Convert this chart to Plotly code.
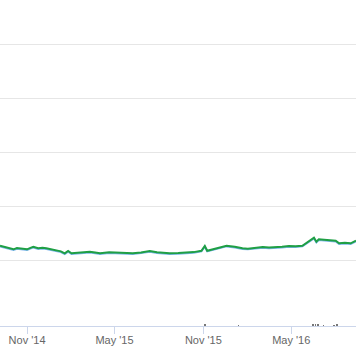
import plotly.graph_objects as go

# ---- data ----
dates = [
    "2014-09-06", "2014-09-13", "2014-09-20", "2014-09-27", "2014-10-04",
    "2014-10-11", "2014-10-18", "2014-10-25", "2014-11-01", "2014-11-08",
    "2014-11-14", "2014-11-24", "2014-12-03", "2014-12-11", "2014-12-21",
    "2015-01-01", "2015-01-10", "2015-01-18", "2015-01-25", "2015-02-01",
    "2015-02-15", "2015-03-11", "2015-03-22", "2015-04-01", "2015-04-20",
    "2015-05-12", "2015-05-25", "2015-06-08", "2015-06-25", "2015-07-13",
    "2015-07-28", "2015-08-10", "2015-08-23", "2015-09-10", "2015-09-27",
    "2015-10-12", "2015-10-28", "2015-11-04", "2015-11-09", "2015-11-18",
    "2015-11-28", "2015-12-08", "2015-12-19", "2016-01-05", "2016-01-12",
    "2016-01-21", "2016-02-01", "2016-02-11", "2016-03-03", "2016-03-16",
    "2016-03-30", "2016-04-12", "2016-04-26", "2016-05-10", "2016-05-24",
    "2016-06-03", "2016-06-17", "2016-06-22", "2016-06-27", "2016-07-08",
    "2016-07-18", "2016-08-01", "2016-08-08", "2016-08-20", "2016-09-01",
    "2016-09-12",
]
green_values = [
    26.5, 25.0, 23.5, 21.2, 19.8,
    22.0, 21.7, 20.5, 19.8, 22.5,
    24.6, 21.7, 22.6, 21.7, 20.2,
    18.5, 16.0, 12.4, 16.7, 12.4,
    14.0, 15.4, 13.8, 12.4, 14.2,
    13.5, 12.9, 12.4, 14.1, 16.7,
    14.3, 13.0, 12.4, 12.9, 13.5,
    14.6, 17.2, 25.9, 17.2, 19.5,
    21.7, 24.0, 26.5, 24.6, 23.0,
    21.7, 21.0, 21.7, 24.1, 23.0,
    23.5, 24.6, 25.9, 25.4, 26.5,
    32.8, 41.3, 33.9, 38.3, 37.4,
    36.5, 35.7, 30.9, 31.8, 30.9,
    35.7,
]
blue_values = [
    25.0, 23.6, 22.2, 19.9, 18.5,
    20.7, 20.4, 19.2, 18.5, 21.2,
    23.3, 20.4, 21.3, 20.4, 18.9,
    17.2, 14.7, 11.1, 15.4, 11.1,
    12.7, 14.1, 12.5, 11.1, 12.9,
    12.2, 11.6, 11.1, 12.8, 15.4,
    13.0, 11.7, 11.1, 11.6, 12.2,
    13.3, 15.9, 24.6, 15.9, 18.2,
    20.4, 22.7, 25.2, 23.3, 21.7,
    20.4, 19.7, 20.4, 22.8, 21.7,
    22.2, 23.3, 24.6, 24.1, 25.2,
    31.5, 40.0, 32.6, 37.0, 36.1,
    35.2, 34.4, 29.6, 30.5, 29.6,
    34.4,
]
volume_dates = ["2015-11-04", "2016-01-13", "2016-06-15", "2016-06-20",
                "2016-06-25", "2016-07-07", "2016-07-28", "2016-08-04"]
volume_values = [5, 3, 6, 6, 5, 3, 3, 5]

tick_dates = ["2014-11-01", "2015-05-01", "2015-11-01", "2016-05-01"]
tick_labels = ["Nov '14", "May '15", "Nov '15", "May '16"]

fig = go.Figure()
fig.add_trace(go.Scatter(x=dates, y=blue_values, mode="lines",
                         line=dict(color="#7cb5ec", width=2), yaxis="y",
                         hoverinfo="skip"))
fig.add_trace(go.Scatter(x=dates, y=green_values, mode="lines",
                         line=dict(color="#1f9f45", width=2), yaxis="y"))
fig.add_trace(go.Bar(x=volume_dates, y=volume_values, yaxis="y2",
                     marker=dict(color="#777777", line=dict(width=0)),
                     width=1.5 * 86400000))

fig.update_layout(
    width=356, height=364,
    margin=dict(l=0, r=0, t=0, b=38),
    paper_bgcolor="white", plot_bgcolor="white",
    showlegend=False,
    font=dict(family="Liberation Sans, Arial, sans-serif", size=11, color="#666666"),
    xaxis=dict(
        type="date", range=["2014-09-06", "2016-09-12"],
        tickvals=tick_dates, ticktext=tick_labels,
        ticks="outside", ticklen=7, tickcolor="#ccd6eb", tickwidth=1,
        showline=True, linecolor="#ccd6eb", linewidth=1,
        showgrid=False, zeroline=False, anchor="y2",
        tickfont=dict(size=11, color="#666666"),
        ticklabelstandoff=-3,
    ),
    yaxis=dict(
        domain=[0.1963, 1], range=[-3.7, 481.5], dtick=100, tick0=0,
        showgrid=True, gridcolor="#e6e6e6", gridwidth=1,
        showticklabels=False, zeroline=False, ticks="",
    ),
    yaxis2=dict(
        domain=[0, 0.1012], range=[0, 101], tickvals=[100],
        showgrid=True, gridcolor="#e6e6e6", gridwidth=1,
        showticklabels=False, zeroline=False, ticks="",
    ),
)

fig.write_html("out.html", config={"displayModeBar": False},
               post_script="document.body.style.margin='0';document.body.style.overflow='hidden';")
